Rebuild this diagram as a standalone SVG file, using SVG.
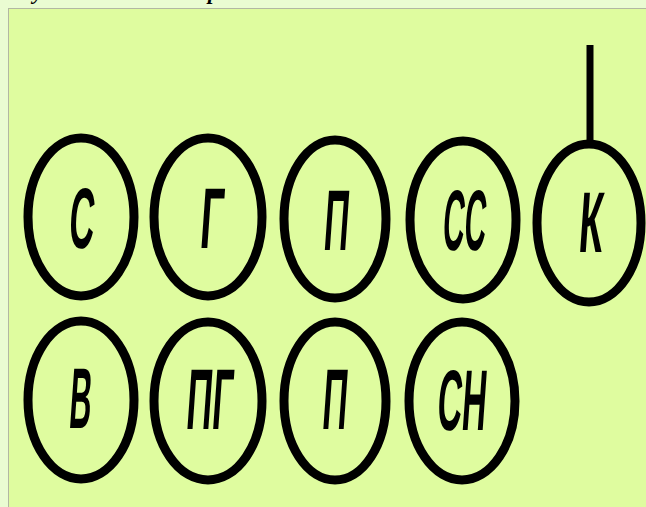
<svg xmlns="http://www.w3.org/2000/svg" width="646" height="507" viewBox="0 0 646 507">
<style>
.ring{fill:none;stroke:#000;stroke-width:9}
.lbl{font-family:"Liberation Sans",Arial,sans-serif;font-weight:bold;font-size:86px;fill:#000}
.cap{font-family:"Liberation Serif","Times New Roman",serif;font-style:italic;font-weight:bold;font-size:22px;fill:#000}
.conn{stroke:#000;stroke-width:7;fill:none}
</style>
<rect x="0" y="0" width="646" height="507" fill="#eafcd2"/>
<text class="cap" x="33" y="-1">у</text>
<text class="cap" x="208" y="-1">р</text>
<rect x="8.5" y="8.5" width="645" height="505" fill="#dffc9f" stroke="#b2b8a2" stroke-width="1"/>
<g id="connectors">
<line class="conn" x1="590" y1="45" x2="590" y2="142"/>
</g>
<g id="node-S">
<ellipse class="ring" cx="81" cy="217" rx="53" ry="79"/>
<text class="lbl" x="68" y="248" textLength="25" lengthAdjust="spacingAndGlyphs" transform="skewX(-4) translate(17,0)">С</text>
</g>
<g id="node-G">
<ellipse class="ring" cx="208" cy="217" rx="54" ry="79"/>
<text class="lbl" x="199" y="248" textLength="23" lengthAdjust="spacingAndGlyphs" transform="skewX(-4) translate(17,0)">Г</text>
</g>
<g id="node-P1">
<ellipse class="ring" cx="335" cy="219" rx="51" ry="79"/>
<text class="lbl" x="323" y="250" textLength="25" lengthAdjust="spacingAndGlyphs" transform="skewX(-4) translate(17,0)">П</text>
</g>
<g id="node-SS">
<ellipse class="ring" cx="463" cy="220" rx="53" ry="79"/>
<text class="lbl" x="442" y="250" textLength="43" lengthAdjust="spacingAndGlyphs" transform="skewX(-4) translate(17,0)">СС</text>
</g>
<g id="node-K">
<ellipse class="ring" cx="589" cy="223" rx="52" ry="79"/>
<text class="lbl" x="578" y="252" textLength="24" lengthAdjust="spacingAndGlyphs" transform="skewX(-4) translate(17,0)">К</text>
</g>
<g id="node-V">
<ellipse class="ring" cx="81" cy="400" rx="53" ry="79"/>
<text class="lbl" x="70" y="428" textLength="22" lengthAdjust="spacingAndGlyphs" transform="skewX(-4) translate(28,0)">В</text>
</g>
<g id="node-PG">
<ellipse class="ring" cx="208" cy="401" rx="54" ry="79"/>
<text class="lbl" x="187" y="429" textLength="46" lengthAdjust="spacingAndGlyphs" transform="skewX(-4) translate(28,0)">ПГ</text>
</g>
<g id="node-P2">
<ellipse class="ring" cx="335" cy="401" rx="51" ry="79"/>
<text class="lbl" x="323" y="429" textLength="25" lengthAdjust="spacingAndGlyphs" transform="skewX(-4) translate(28,0)">П</text>
</g>
<g id="node-SN">
<ellipse class="ring" cx="462" cy="401" rx="53" ry="79"/>
<text class="lbl" x="438" y="430" textLength="49" lengthAdjust="spacingAndGlyphs" transform="skewX(-4) translate(28,0)">СН</text>
</g>
</svg>
